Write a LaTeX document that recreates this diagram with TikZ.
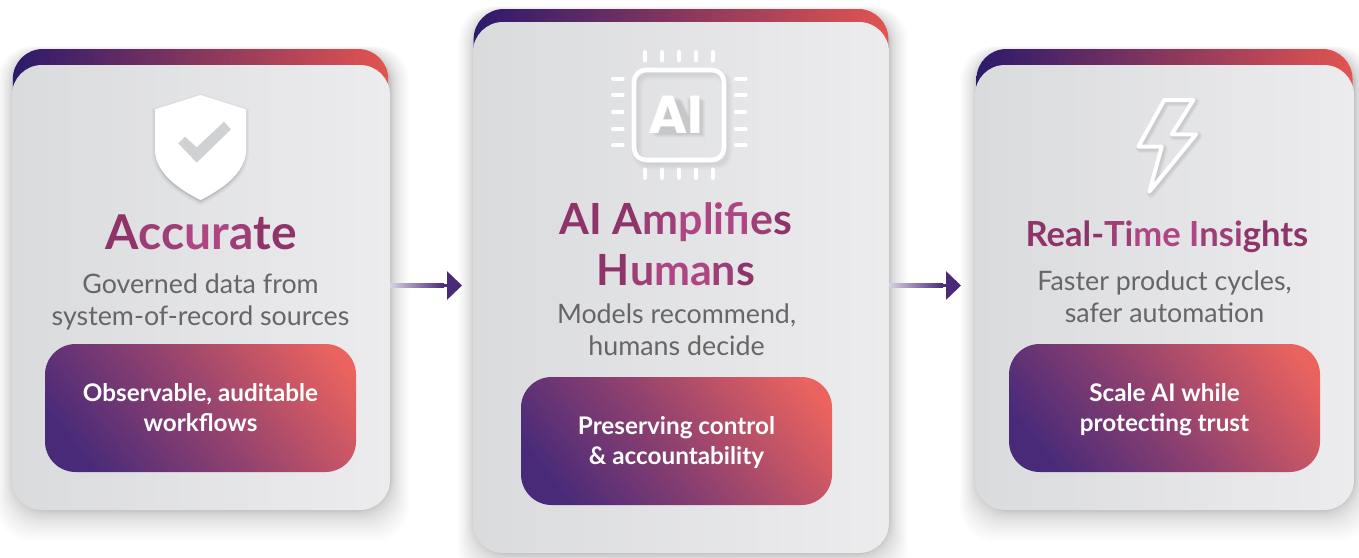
\documentclass[tikz,border=0pt]{standalone}
\usepackage{fontspec}
\setmainfont{Lato}
\newfontfamily\aifont{Poppins}
\usetikzlibrary{arrows.meta,calc}
\definecolor{tA}{HTML}{8E3469}
\definecolor{tB}{HTML}{9D3E77}
\definecolor{tC}{HTML}{AD4683}
\definecolor{subgrey}{HTML}{666666}
\definecolor{arrowpurple}{HTML}{4A2A78}
\definecolor{DCL}{HTML}{DADBDD}
\definecolor{DCR}{HTML}{ECECEE}
\definecolor{BL}{HTML}{2C1A6C}
\definecolor{BR}{HTML}{E25450}
\definecolor{PL}{HTML}{482A79}
\definecolor{PM}{HTML}{8A3F70}
\definecolor{PR}{HTML}{EA635F}
\pgfdeclareverticalshading{pillshade}{100bp}{color(0bp)=(PL); color(23bp)=(PL); color(47bp)=(PM); color(80bp)=(PR); color(100bp)=(PR)}
\tikzset{
  x=0.75pt,y=-0.75pt,
  cardbox/.style={rectangle,inner sep=0pt,rounded corners=22.5pt,left color=DCL,right color=DCR},
  bandbox/.style={rectangle,inner sep=0pt,rounded corners=22.5pt,left color=BL,right color=BR},
  pillbox/.style={rectangle,inner sep=0pt,rounded corners=23pt,minimum width=233.25pt,minimum height=96pt,
     shade,shading=pillshade,shading angle=-52,text=white,align=center,text height=36pt,text depth=1.5pt,
     font=\fontsize{18.2pt}{21.8pt}\selectfont\bfseries},
  titletext/.style={anchor=base,align=center},
  subtext/.style={anchor=base,align=center,text=subgrey,font=\fontsize{20.1pt}{24pt}\selectfont},
  conn/.style={draw=arrowpurple,line width=2.4pt,-{Triangle[length=11.25pt,width=21pt]}},
  pin/.style={draw=white,line width=3pt,line cap=round},
}
\newcommand{\softshadow}[4]{%
  \foreach \k in {1,...,20}{
    \fill[black,opacity=0.013,rounded corners=26pt]
      ($(#1,#2)+(-\k*\k*0.04+1,-\k*\k*0.012+2)$) rectangle ($(#3,#4)+(\k*\k*0.045+1,\k*\k*0.075+1)$);
  }}
\begin{document}
\begin{tikzpicture}
\useasboundingbox (0,0) rectangle (1359,557);
\fill[white] (0,0) rectangle (1359,557);

% shadows
\softshadow{12}{49}{390}{510}
\softshadow{473}{9}{889}{553}
\softshadow{975}{49}{1354}{510}

% bands
\node[bandbox,minimum width=281.5pt,minimum height=75pt] (band1) at (200.5,99) {};
\node[bandbox,minimum width=311pt,minimum height=75pt] (band2) at (681,59) {};
\node[bandbox,minimum width=282pt,minimum height=75pt] (band3) at (1164.5,99) {};

% cards
\node[cardbox,minimum width=283.5pt,minimum height=333.75pt] (card1) at (201,287.5) {};
\node[cardbox,minimum width=312pt,minimum height=398.25pt] (card2) at (681,287.5) {};
\node[cardbox,minimum width=284.25pt,minimum height=333.75pt] (card3) at (1164.5,287.5) {};

% shield
\foreach \k in {1,...,5}{
  \draw[black,opacity=0.014,line width={\k*1pt},fill=black,line join=round]
   (200.5,97)--(246,111)--(246,150) .. controls (246,175) and (224,190) .. (200.5,202)
   .. controls (177,190) and (155,175) .. (155,150)--(155,111)--cycle;
}
\fill[white] (200.5,95)--(246,109.3)--(246,150) .. controls (246,172) and (224,188) .. (200.5,200)
   .. controls (177,188) and (155,172) .. (155,150)--(155,109.3)--cycle;
\fill[DCL!55!DCR!92!black] (178.3,143.3)--(185,136.7)--(196.7,147.3)--(224,121.7)--(231,129.3)--(196.7,162.7)--cycle;

% chip
\foreach \k in {1,...,6}{
  \draw[black,opacity=0.012,line width={\k*1.5pt},rounded corners=9pt] (637,74) rectangle (727,164);
}
\draw[white,line width=3.4pt,rounded corners=9pt] (634,70) rectangle (724,160);
\foreach \x in {645,661.7,679,696,712.7}{
  \draw[pin] (\x,52) -- (\x,60.5);
  \draw[pin] (\x,169.5) -- (\x,178);
}
\foreach \y in {78.7,95.3,112,128.7,145.3}{
  \draw[pin] (613,\y) -- (622.5,\y);
  \draw[pin] (736,\y) -- (745.5,\y);
}
\foreach \k in {1,...,5}{
  \fill[black,opacity=0.025,shift={(\k*0.9,\k*0.8)}] (651,133.3)--(668,97)--(678,97)--(686,115)--(686,97)--(700.7,97)--(700.7,133.3)--cycle;
}
\node[anchor=base,inner sep=0pt,text=white,font=\aifont\fontsize{40pt}{40pt}\selectfont\bfseries] (aitext) at (675.7,133.3) {AI};

% lightning bolt
\foreach \k in {1,...,5}{
  \draw[black,opacity=0.018,line width={(2+\k)*1pt},line join=round]
   (1166,102)--(1195,102)--(1173.5,136)--(1198,136)--(1151,193.5)--(1163.5,148.5)--(1140,148.5)--cycle;
}
\draw[white,line width=3pt,line join=round]
   (1164.3,100)--(1193.3,100)--(1171.7,134.3)--(1196,134.3)--(1149.3,191.7)--(1161.7,146.7)--(1138.3,146.7)--cycle;

% titles
\node[titletext,font=\fontsize{36pt}{38pt}\selectfont\bfseries] (t1) at (201,249)
  {\textcolor{tA}{A}\textcolor{tB}{cc}\textcolor{tC}{ur}\textcolor{tB}{a}\textcolor{tA}{te}};
\node[anchor=base,font=\fontsize{32.2pt}{38pt}\selectfont\bfseries] (t2a) at (676,234)
  {\textcolor{tA}{AI A}\textcolor{tB}{m}\textcolor{tC}{pl}\textcolor{tC}{ifi}\textcolor{tB}{e}\textcolor{tA}{s}};
\node[anchor=base,font=\fontsize{32.2pt}{38pt}\selectfont\bfseries] (t2b) at (676,285)
  {\textcolor{tA}{H}\textcolor{tB}{u}\textcolor{tC}{ma}\textcolor{tB}{n}\textcolor{tA}{s}};
\node[anchor=base,font=\fontsize{25.9pt}{30pt}\selectfont\bfseries] (t3) at (1167,246)
  {\textcolor{tA}{Real-}\textcolor{tB}{Ti}\textcolor{tC}{me I}\textcolor{tB}{nsi}\textcolor{tA}{ghts}};

% subtitles
\node[subtext] (s1) at (200.5,325) {Governed data from\\system-of-record sources};
\node[subtext] (s2) at (676.5,355) {Models recommend,\\humans decide};
\node[subtext] (s3) at (1164.5,322) {Faster product cycles,\\safer automation};

% pills
\node[pillbox] (p1) at (200.5,408) {Observable, auditable\\workflows};
\node[pillbox] (p2) at (676.5,441) {Preserving control\\\&\ accountability};
\node[pillbox] (p3) at (1164.5,408) {Scale AI while\\protecting trust};

% connectors
\coordinate (tip1) at (462,285.5);
\coordinate (tip2) at (961,285.5);
\draw[conn] (card1.east |- tip1) -- (tip1);
\draw[conn] (card2.east |- tip2) -- (tip2);
\shade[left color=arrowpurple!22,middle color=arrowpurple!55,right color=arrowpurple]
  ($(card1.east |- tip1)+(0,-1.6)$) rectangle ($(tip1)+(-18,1.6)$);
\shade[left color=arrowpurple!22,middle color=arrowpurple!55,right color=arrowpurple]
  ($(card2.east |- tip2)+(0,-1.6)$) rectangle ($(tip2)+(-18,1.6)$);
\end{tikzpicture}
\end{document}
